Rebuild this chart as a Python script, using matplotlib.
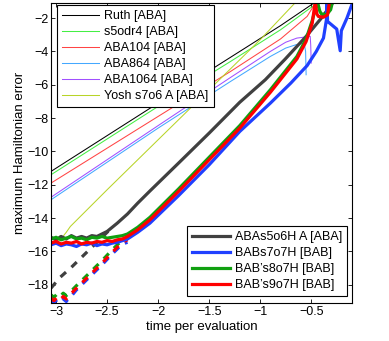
import matplotlib
matplotlib.use('Agg')
import matplotlib.pyplot as plt

plt.rcParams['font.family'] = ['Liberation Sans', 'DejaVu Sans']

# thin reference methods [ABA]
ruth_x = [-3.05, -2.0, -1.29, -0.8, -0.45]
ruth_y = [-11.2, -7.1, -4.35, -2.45, -1.0]
s5odr4_x = [-3.05, -2.0, -1.29, -0.8, -0.42]
s5odr4_y = [-11.4, -7.3, -4.6, -2.7, -1.0]
aba104_x = [-3.05, -2.0, -1.29, -0.8, -0.54, -0.45]
aba104_y = [-11.9, -7.9, -5.2, -3.25, -1.9, -1.0]
aba864_x = [-3.05, -2.0, -1.29, -0.9, -0.75, -0.65, -0.57, -0.555, -0.55]
aba864_y = [-12.9, -8.6, -5.8, -4.3, -3.8, -3.6, -3.5, -4.0, -5.4]
aba1064_x = [-3.05, -2.0, -1.29, -0.9, -0.75, -0.64, -0.51, -0.505, -0.5]
aba1064_y = [-12.75, -8.45, -5.56, -4.0, -3.45, -3.2, -3.1, -3.6, -4.7]
yosh_x = [-3.05, -3.03, -3.0, -2.98, -2.96, -2.94, -2.92, -2.9, -2.86, -2.5, -2.0, -1.5, -1.0, -0.66]
yosh_y = [-15.0, -15.3, -15.1, -15.35, -15.05, -15.2, -15.0, -14.85, -14.5, -12.3, -9.3, -6.3, -3.3, -1.1]

# thick new methods, solid
gray_x = [-3.05, -3.0, -2.95, -2.9, -2.85, -2.8, -2.75, -2.7, -2.65, -2.6, -2.55, -2.5, -2.45,
          -2.4, -2.3, -2.2, -2.08, -1.8, -1.5, -1.2, -0.95, -0.755, -0.55, -0.4, -0.28]
gray_y = [-15.15, -15.3, -15.1, -15.25, -15.05, -15.2, -15.1, -15.2, -15.05, -15.1, -14.95, -14.8, -14.55,
          -14.3, -13.75, -13.1, -12.37, -10.7, -8.9, -7.05, -5.7, -4.46, -3.1, -2.0, -1.0]
flat_x = [-3.05, -3.0, -2.95, -2.9, -2.85, -2.8, -2.75, -2.7, -2.65, -2.6, -2.55, -2.5, -2.45,
          -2.4, -2.35, -2.3, -2.2, -2.08, -1.8, -1.5]
blue_x = flat_x + [-1.2, -0.9, -0.7, -0.54, -0.45, -0.38, -0.35, -0.345, -0.34, -0.25, -0.216, -0.205, -0.15, -0.09]
blue_y = [-15.6, -15.5, -15.65, -15.55, -15.6, -15.7, -15.55, -15.6, -15.5, -15.65, -15.55, -15.6, -15.5,
          -15.45, -15.35, -15.25, -14.85, -14.3, -12.65, -10.8,
          -8.8, -7.1, -5.9, -4.85, -4.0, -3.2, -2.06, -1.0, -2.2, -2.66, -3.96, -2.76, -2.0, -1.0]
green_x = flat_x + [-1.2, -0.9, -0.64, -0.55, -0.49, -0.44, -0.415, -0.4, -0.35, -0.31, -0.29]
green_y = [-15.25, -15.15, -15.3, -15.2, -15.1, -15.25, -15.2, -15.3, -15.15, -15.2, -15.1, -15.2, -15.15,
           -15.1, -15.05, -14.95, -14.55, -13.95, -12.25, -10.35,
           -8.45, -6.3, -4.3, -3.25, -2.15, -1.0, -1.6, -1.75, -1.8, -1.5, -1.0]
red_x = flat_x + [-1.2, -0.9, -0.64, -0.55, -0.49, -0.46, -0.445, -0.43, -0.38, -0.34, -0.32]
red_y = [-15.5, -15.4, -15.55, -15.45, -15.5, -15.4, -15.55, -15.45, -15.5, -15.4, -15.45, -15.35, -15.4,
         -15.3, -15.25, -15.1, -14.7, -14.1, -12.4, -10.5,
         -8.6, -6.45, -4.45, -3.4, -2.3, -1.0, -1.75, -1.9, -1.95, -1.8, -1.0]

# dashed companions
gray_dx = [-3.05, -2.96, -2.85, -2.75, -2.65, -2.55, -2.45]
gray_dy = [-18.2, -17.55, -16.95, -16.35, -15.75, -15.15, -14.55]
bab_dx = [-3.05, -3.02, -2.99, -2.96, -2.93, -2.9, -2.87, -2.84, -2.8, -2.75, -2.65, -2.55, -2.45, -2.35, -2.3]
red_dy = [-18.8, -18.95, -18.75, -18.9, -18.7, -18.85, -18.6, -18.45, -18.2, -17.9, -17.3, -16.7, -16.05, -15.45, -15.3]
green_dy = [-18.6, -18.75, -18.55, -18.7, -18.5, -18.65, -18.45, -18.3, -18.05, -17.75, -17.15, -16.55, -15.9, -15.3, -15.15]
blue_dy = [-18.95, -19.05, -18.9, -19.05, -18.85, -19.0, -18.75, -18.6, -18.3, -18.0, -17.4, -16.8, -16.15, -15.55, -15.45]

xticks = [-3, -2.5, -2, -1.5, -1, -0.5]
xticklabels = ['\u22123', '\u22122.5', '\u22122', '\u22121.5', '\u22121', '\u22120.5']
yticks = [-18, -16, -14, -12, -10, -8, -6, -4, -2]

fig = plt.figure(figsize=(3.89, 3.41), dpi=100)
ax = fig.add_axes([0.131, 0.111, 0.774, 0.880])

thin = 0.75
h1 = []
h1 += ax.plot(ruth_x, ruth_y, color='black', lw=thin, label='Ruth [ABA]')
h1 += ax.plot(s5odr4_x, s5odr4_y, color='#44ee44', lw=thin, label='s5odr4 [ABA]')
h1 += ax.plot(aba104_x, aba104_y, color='#ff4444', lw=thin, label='ABA104 [ABA]')
h1 += ax.plot(aba864_x, aba864_y, color='#44a8ff', lw=thin, label='ABA864 [ABA]')
h1 += ax.plot(aba1064_x, aba1064_y, color='#a050ff', lw=thin, label='ABA1064 [ABA]')
h1 += ax.plot(yosh_x, yosh_y, color='#b8d428', lw=thin, label='Yosh s7o6 A [ABA]')

thick = 2.3
dash = (0, (2.3, 2.3))
ax.plot(gray_dx, gray_dy, color='#404040', lw=thick, ls=dash)
ax.plot(bab_dx, blue_dy, color='#2040ff', lw=thick, ls=dash)
ax.plot(bab_dx, green_dy, color='#10a010', lw=thick, ls=dash)
ax.plot(bab_dx, red_dy, color='#ff0000', lw=thick, ls=dash)
h2 = []
h2 += ax.plot(gray_x, gray_y, color='#404040', lw=thick, label='ABAs5o6H A [ABA]')
h2 += ax.plot(blue_x, blue_y, color='#2040ff', lw=thick, label='BABs7o7H [BAB]')
h2 += ax.plot(green_x, green_y, color='#10a010', lw=thick, label='BAB\u2019s8o7H [BAB]')
h2 += ax.plot(red_x, red_y, color='#ff0000', lw=thick, label='BAB\u2019s9o7H [BAB]')

ax.set_xlim(-3.05, -0.1)
ax.set_ylim(-19.1, -1.1)
ax.set_xticks(xticks)
ax.set_xticklabels(xticklabels)
ax.set_yticks(yticks)
ax.set_yticklabels(['\u2212%d' % -t for t in yticks])
ax.tick_params(direction='in', length=3, width=0.6, top=True, right=True, labelsize=9, pad=2)
for s in ax.spines.values():
    s.set_linewidth(0.8)

ax.set_xlabel('time per evaluation', fontsize=9.5, labelpad=2)
ax.set_ylabel('maximum Hamiltonian error', fontsize=9.5, labelpad=1)

leg_kw = dict(fontsize=9, frameon=True, fancybox=False, framealpha=1, edgecolor='black',
              handlelength=3.0, handletextpad=0.4, labelspacing=0.32, borderpad=0.4, borderaxespad=0)
leg1 = ax.legend(handles=h1, loc='upper left', bbox_to_anchor=(0.02, 0.993), **leg_kw)
leg1.get_frame().set_linewidth(0.8)
ax.add_artist(leg1)
leg2 = ax.legend(handles=h2, loc='lower right', bbox_to_anchor=(0.984, 0.023), **leg_kw)
leg2.get_frame().set_linewidth(0.8)

fig.savefig('out.png', dpi=100)
